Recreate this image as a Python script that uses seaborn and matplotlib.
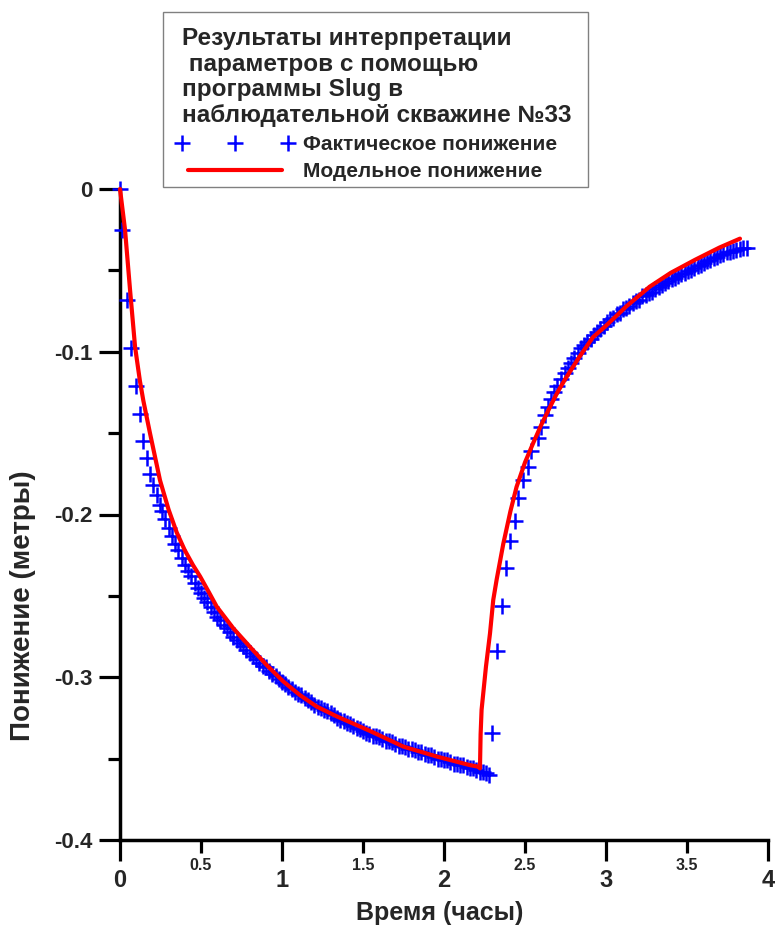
import matplotlib
matplotlib.use('Agg')
import matplotlib.pyplot as plt
import seaborn as sns
from matplotlib.ticker import FixedLocator, FixedFormatter, NullFormatter
from matplotlib.legend_handler import HandlerLine2D
from matplotlib.patches import Rectangle

sns.set_theme(style='white')
plt.rcParams['font.family'] = ['Liberation Sans', 'DejaVu Sans']
plt.rcParams['font.weight'] = 'bold'
plt.rcParams['axes.labelweight'] = 'bold'
plt.rcParams['axes.unicode_minus'] = False

# Observed drawdown (Фактическое понижение)
t_obs = [0.0, 0.010, 0.041, 0.068, 0.097, 0.123, 0.144, 0.165, 0.185, 0.205,
         0.226, 0.245, 0.26, 0.28, 0.30, 0.32, 0.34, 0.36, 0.38, 0.40,
         0.42, 0.44, 0.46, 0.48, 0.50, 0.52, 0.54, 0.56, 0.58, 0.60,
         0.62, 0.64, 0.66, 0.68, 0.70, 0.72, 0.74, 0.76, 0.78, 0.80,
         0.82, 0.84, 0.86, 0.88, 0.90, 0.92, 0.94, 0.96, 0.98, 1.00,
         1.02, 1.04, 1.06, 1.08, 1.10, 1.12, 1.14, 1.16, 1.18, 1.20,
         1.22, 1.24, 1.26, 1.28, 1.30, 1.32, 1.34, 1.36, 1.38, 1.40,
         1.42, 1.44, 1.46, 1.48, 1.50, 1.52, 1.54, 1.56, 1.58, 1.60,
         1.62, 1.64, 1.66, 1.68, 1.70, 1.72, 1.74, 1.76, 1.78, 1.80,
         1.82, 1.84, 1.86, 1.88, 1.90, 1.92, 1.94, 1.96, 1.98, 2.00,
         2.02, 2.04, 2.06, 2.08, 2.10, 2.12, 2.14, 2.16, 2.18, 2.20,
         2.22, 2.24, 2.26, 2.28,
         2.296, 2.327, 2.358, 2.383, 2.407, 2.438, 2.459, 2.49, 2.52, 2.54,
         2.58, 2.60, 2.623, 2.64, 2.66, 2.68, 2.70, 2.72, 2.745, 2.765,
         2.785, 2.805, 2.825, 2.845, 2.865, 2.885, 2.905, 2.925, 2.945, 2.965,
         2.985, 3.005, 3.025, 3.045, 3.065, 3.085, 3.105, 3.125, 3.145, 3.165,
         3.185, 3.205, 3.225, 3.245, 3.265, 3.285, 3.305, 3.325, 3.345, 3.365,
         3.385, 3.405, 3.425, 3.445, 3.465, 3.485, 3.505, 3.525, 3.545, 3.565,
         3.585, 3.605, 3.625, 3.645, 3.665, 3.685, 3.705, 3.725, 3.745, 3.765,
         3.785, 3.805, 3.825, 3.845, 3.87]
s_obs = [0.0, -0.025, -0.068, -0.098, -0.121, -0.138, -0.155, -0.165, -0.175, -0.182,
         -0.188, -0.194, -0.198, -0.203, -0.208, -0.213, -0.218, -0.222, -0.227, -0.231,
         -0.235, -0.238, -0.242, -0.245, -0.248, -0.251, -0.254, -0.257, -0.260, -0.263,
         -0.265, -0.268, -0.270, -0.272, -0.275, -0.277, -0.279, -0.281, -0.283, -0.285,
         -0.287, -0.289, -0.291, -0.293, -0.294, -0.296, -0.298, -0.299, -0.301, -0.303,
         -0.304, -0.306, -0.307, -0.309, -0.310, -0.311, -0.313, -0.314, -0.315, -0.317,
         -0.318, -0.319, -0.320, -0.321, -0.322, -0.323, -0.325, -0.326, -0.327, -0.328,
         -0.329, -0.330, -0.331, -0.332, -0.333, -0.334, -0.335, -0.336, -0.336, -0.337,
         -0.338, -0.339, -0.339, -0.340, -0.341, -0.342, -0.342, -0.343, -0.344, -0.344,
         -0.345, -0.346, -0.346, -0.347, -0.348, -0.348, -0.349, -0.350, -0.350, -0.351,
         -0.351, -0.352, -0.353, -0.353, -0.354, -0.354, -0.355, -0.356, -0.356, -0.357,
         -0.358, -0.358, -0.359, -0.360,
         -0.334, -0.284, -0.256, -0.233, -0.216, -0.204, -0.190, -0.179, -0.171, -0.161,
         -0.153, -0.146, -0.139, -0.134, -0.129, -0.125, -0.121, -0.117, -0.113, -0.110,
         -0.107, -0.104, -0.101, -0.098, -0.096, -0.094, -0.092, -0.090, -0.088, -0.086,
         -0.084, -0.082, -0.080, -0.079, -0.077, -0.076, -0.074, -0.073, -0.072, -0.070,
         -0.069, -0.068, -0.066, -0.065, -0.064, -0.063, -0.0615, -0.060, -0.059, -0.058,
         -0.0565, -0.0555, -0.0545, -0.0535, -0.0525, -0.0515, -0.0505, -0.0495, -0.0485, -0.0475,
         -0.0465, -0.0455, -0.0445, -0.0435, -0.0425, -0.0415, -0.0405, -0.040, -0.039, -0.0385,
         -0.038, -0.0375, -0.037, -0.0365, -0.036]

# Model drawdown (Модельное понижение)
t_model = [0.0, 0.031, 0.062, 0.093, 0.123, 0.144, 0.185, 0.215, 0.247, 0.30,
           0.35, 0.40, 0.45, 0.494, 0.55, 0.597, 0.70, 0.802, 0.905, 1.008,
           1.111, 1.214, 1.337, 1.543, 1.749, 1.955, 2.16, 2.215, 2.222,
           2.226, 2.232, 2.259, 2.284, 2.304, 2.325, 2.366, 2.41, 2.448, 2.50,
           2.551, 2.60, 2.654, 2.70, 2.747, 2.83, 2.92, 3.0, 3.127, 3.27,
           3.4, 3.55, 3.7, 3.827]
s_model = [0.0, -0.025, -0.062, -0.097, -0.118, -0.130, -0.150, -0.164, -0.179, -0.197,
           -0.211, -0.222, -0.231, -0.238, -0.248, -0.2566, -0.270, -0.2813, -0.2925, -0.3026,
           -0.311, -0.318, -0.324, -0.333, -0.3426, -0.3487, -0.354, -0.355, -0.356,
           -0.335, -0.320, -0.2935, -0.273, -0.2525, -0.240, -0.218, -0.198, -0.183, -0.168,
           -0.156, -0.145, -0.134, -0.125, -0.117, -0.104, -0.091, -0.084, -0.072, -0.060,
           -0.0515, -0.0435, -0.036, -0.0305]

x_major = [0, 1, 2, 3, 4]
x_major_labels = ['0', '1', '2', '3', '4']
x_minor = [0.5, 1.5, 2.5, 3.5]
x_minor_labels = ['0.5', '1.5', '2.5', '3.5']
y_major = [0, -0.1, -0.2, -0.3, -0.4]
y_major_labels = ['0', '-0.1', '-0.2', '-0.3', '-0.4']
y_minor = [-0.05, -0.15, -0.25, -0.35]

legend_title = ('Результаты интерпретации\n параметров с помощью\n'
                'программы Slug в\nнаблюдательной скважине №33')
label_obs = 'Фактическое понижение'
label_model = 'Модельное понижение'
x_title = 'Время (часы)'
y_title = 'Понижение (метры)'

W, H = 777, 927
fig = plt.figure(figsize=(W / 100, H / 100), dpi=100)
ax = fig.add_axes([120 / W, 1 - 840 / H, 648 / W, 651 / H])

sns.lineplot(x=t_obs, y=s_obs, ax=ax, color='#0000ff', marker='+', linestyle='',
             markersize=12, markeredgewidth=1.8, markeredgecolor='#0000ff',
             estimator=None, sort=False, label=label_obs, clip_on=False, zorder=3)
sns.lineplot(x=t_model, y=s_model, ax=ax, color='#ff0000', linewidth=3.0,
             estimator=None, sort=False, label=label_model, clip_on=False, zorder=4)

ax.set_xlim(0, 4)
ax.set_ylim(-0.4, 0)
ax.xaxis.set_major_locator(FixedLocator(x_major))
ax.xaxis.set_major_formatter(FixedFormatter(x_major_labels))
ax.xaxis.set_minor_locator(FixedLocator(x_minor))
ax.xaxis.set_minor_formatter(FixedFormatter(x_minor_labels))
ax.yaxis.set_major_locator(FixedLocator(y_major))
ax.yaxis.set_major_formatter(FixedFormatter(y_major_labels))
ax.yaxis.set_minor_locator(FixedLocator(y_minor))
ax.yaxis.set_minor_formatter(NullFormatter())

ax.tick_params(which='both', direction='out', bottom=True, left=True, top=False, right=False,
               color='black', width=2.3)
ax.tick_params(which='major', length=15)
ax.tick_params(which='minor', length=9)
ax.tick_params(axis='x', which='major', labelsize=17, pad=6)
ax.tick_params(axis='x', which='minor', labelsize=11.5, pad=4)
ax.tick_params(axis='y', which='major', labelsize=16, pad=5)

for side in ['top', 'right']:
    ax.spines[side].set_visible(False)
for side in ['left', 'bottom']:
    ax.spines[side].set_color('black')
    ax.spines[side].set_linewidth(2.5)

ax.set_xlabel(x_title, fontsize=18)
ax.set_ylabel(y_title, fontsize=20)
ax.xaxis.set_label_coords(0.494, -0.093)
ax.yaxis.set_label_coords(-0.13, 0.36)

# legend content (frame drawn separately so padding can match the reference)
handles, labels = ax.get_legend_handles_labels()
leg = ax.legend(handles, labels, loc='upper left',
                bbox_to_anchor=(182 / W, 1 - 27 / H), bbox_transform=fig.transFigure,
                borderaxespad=0, borderpad=0, numpoints=3,
                handler_map={handles[0]: HandlerLine2D(numpoints=3, marker_pad=0.0)},
                handlelength=5.1, handletextpad=0.72, fontsize=15, title=legend_title,
                title_fontproperties={'weight': 'bold', 'size': 17.5},
                frameon=False, labelspacing=0.38)
leg._legend_box.align = 'left'
leg.get_title().set_linespacing(1.15)
fig.add_artist(Rectangle((163 / W, 1 - 187 / H), 425 / W, 175 / H,
                         transform=fig.transFigure, fill=False,
                         edgecolor='#808080', linewidth=1.0, zorder=5))

fig.savefig('out.png', dpi=100)
